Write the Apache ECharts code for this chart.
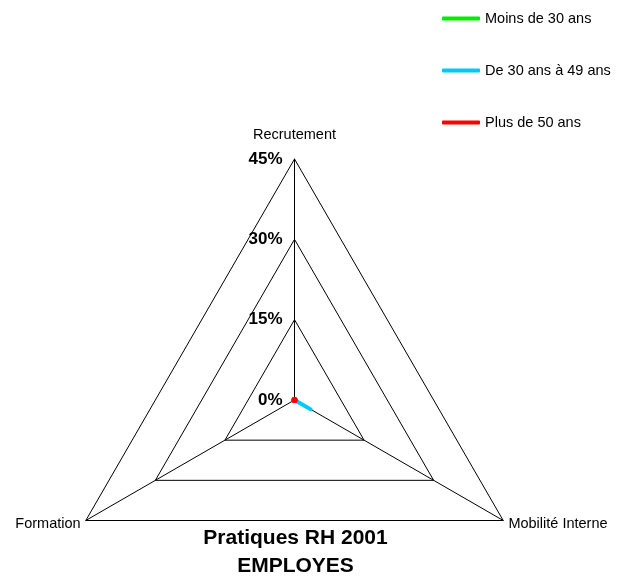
<!DOCTYPE html>
<html>
<head>
<meta charset="utf-8">
<script src="https://cdn.jsdelivr.net/npm/echarts@6/dist/echarts.min.js"></script>
<style>
  html, body { margin: 0; padding: 0; background: #fff; }
  #chart { width: 618px; height: 576px; }
</style>
</head>
<body>
<div id="chart"></div>
<script>
// Axes of the radar (ECharts lays them out counter-clockwise from the top)
const axes = ['Recrutement', 'Formation', 'Mobilité Interne'];
const axisMax = 45;
const tickValues = [0, 15, 30, 45];

// Share (%) of each age group for each practice, in the order of `axes`
const seriesNames = ['Moins de 30 ans', 'De 30 ans à 49 ans', 'Plus de 50 ans'];
const moins30 = [0, 0, 0];
const de30a49 = [0, 0, 3.5];
const plus50 = [0, 0, 0];
const colors = ['#00ee00', '#00c8f8', '#ff0000'];

const font = 'Liberation Sans, Arial, sans-serif';
const cx = 294.5, cy = 400, radius = 241;

const chart = echarts.init(document.getElementById('chart'));
chart.setOption({
  animation: false,
  title: {
    text: 'Pratiques RH 2001\nEMPLOYES',
    left: cx + 1,
    textAlign: 'center',
    padding: 0,
    top: 524,
    textStyle: { fontFamily: font, fontSize: 21, fontWeight: 'bold', color: '#000', lineHeight: 28 }
  },
  legend: {
    orient: 'vertical',
    left: 437,
    top: 6,
    itemGap: 37,
    itemWidth: 38,
    itemHeight: 4,
    icon: 'roundRect',
    data: seriesNames,
    textStyle: { fontFamily: font, fontSize: 14.5, color: '#000' }
  },
  radar: {
    center: [cx, cy],
    radius: radius,
    shape: 'polygon',
    splitNumber: 3,
    startAngle: 90,
    indicator: axes.map(n => ({ name: n, min: 0, max: axisMax })),
    axisName: {
      color: '#000',
      fontFamily: font,
      fontSize: 14.5,
      formatter: (name) => name === 'Recrutement' ? '{top|' + name + '}' : name,
      rich: { top: { padding: [0, 0, 11, 0], fontFamily: font, fontSize: 14.5, color: '#000' } }
    },
    nameGap: 6,
    axisLine: { lineStyle: { color: '#000', width: 1 } },
    splitLine: { lineStyle: { color: '#000', width: 1 } },
    splitArea: { show: false },
    axisTick: { show: false },
    axisLabel: { show: false }
  },
  // Percentage scale drawn beside the Recrutement axis
  grid: { left: cx, width: 1, top: cy - radius, height: radius, containLabel: false },
  xAxis: { type: 'value', show: false },
  yAxis: {
    type: 'value',
    min: 0,
    max: axisMax,
    interval: 15,
    axisLine: { show: false },
    axisTick: { show: false },
    splitLine: { show: false },
    axisLabel: {
      margin: 12,
      formatter: (v) => tickValues.includes(v) ? v + '%' : '',
      fontFamily: font, fontSize: 17, fontWeight: 'bold', color: '#000'
    }
  },
  series: [{
    type: 'radar',
    symbol: 'none',
    data: [
      { name: seriesNames[0], value: moins30, lineStyle: { color: colors[0], width: 4 }, itemStyle: { color: colors[0] } },
      { name: seriesNames[1], value: de30a49, lineStyle: { color: colors[1], width: 4 }, itemStyle: { color: colors[1] } },
      { name: seriesNames[2], value: plus50, symbol: 'circle', symbolSize: 6, lineStyle: { color: colors[2], width: 4 }, itemStyle: { color: colors[2] } }
    ]
  }]
});
</script>
</body>
</html>
